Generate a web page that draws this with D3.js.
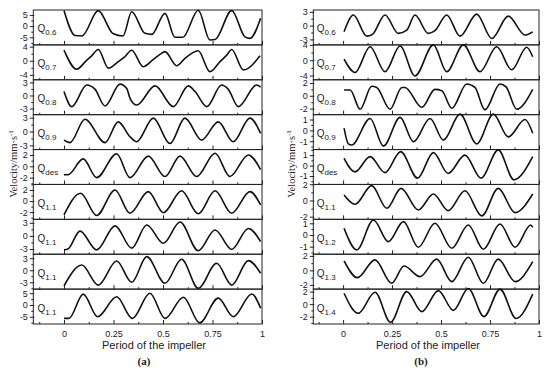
<!DOCTYPE html>
<html><head><meta charset="utf-8">
<script src="https://cdn.jsdelivr.net/npm/d3@7"></script>
<style>
html,body{margin:0;padding:0;background:#fff;}
svg{display:block;}
text{font-family:"Liberation Sans",Arial,sans-serif;fill:#222;}
</style></head>
<body>
<svg id="chart" width="550" height="371"></svg>
<script>
// ---------- data ----------
const leftLabels  = ["0.6","0.7","0.8","0.9","des","1.1","1.1","1.1","1.1"];
const rightLabels = ["0.6","0.7","0.8","0.9","des","1.1","1.2","1.3","1.4"];
const leftTicks  = [5,4,3,3,2,2,3,3,5];
const rightTicks = [3,4,2,1,1,2,1,2,2];
const leftDomains  = [[-8.4,7.2],[-5.4,4.5],[-4.4,3.6],[-3.9,3.65],[-3.2,2.95],[-3.3,3.0],[-4.2,3.8],[-4.7,4.0],[-8.1,6.75]];
const rightDomains = [[-4.2,3.4],[-5.1,4.0],[-2.95,2.5],[-1.77,1.45],[-1.8,1.53],[-2.33,1.98],[-1.65,1.34],[-2.58,2.23],[-3.17,2.4]];
const xTickValues = [0,0.25,0.5,0.75,1];
const xMinorValues = [-0.125,0.125,0.375,0.625,0.875];

// left panel (a)
const L_Q06 = [[0,7.0],[0.056,-4.2],[0.091,-4.4],[0.173,6.9],[0.247,-3.3],[0.298,-4.4],[0.342,6.4],[0.409,-3.2],[0.443,-3.7],[0.51,5.7],[0.56,-5.0],[0.60,-5.0],[0.678,7.1],[0.737,-6.2],[0.763,-6.0],[0.847,6.9],[0.914,-4.8],[0.939,-5.5],[0.993,3.5]];
const L_Q07 = [[0,3.0],[0.064,-2.4],[0.115,0.2],[0.14,1.4],[0.173,3.2],[0.224,-2.1],[0.274,-0.25],[0.308,1.2],[0.342,3.0],[0.40,-1.7],[0.451,0.4],[0.493,2.1],[0.51,2.6],[0.569,-1.4],[0.611,0.7],[0.645,2.1],[0.678,2.85],[0.737,-3.1],[0.788,-0.25],[0.822,1.6],[0.847,3.2],[0.906,-2.6],[0.99,1.4]];
const L_Q08 = [[0,0.9],[0.039,-2.55],[0.115,2.4],[0.157,1.4],[0.207,-2.4],[0.283,2.6],[0.317,1.6],[0.333,-0.6],[0.367,-2.2],[0.46,2.2],[0.552,-2.55],[0.628,2.2],[0.662,0.9],[0.721,-2.55],[0.796,2.4],[0.83,1.4],[0.88,-2.55],[0.973,2.4],[0.993,1.9]];
const L_Q09 = [[0,-1.85],[0.03,-2.4],[0.106,2.65],[0.207,-2.4],[0.274,2.1],[0.333,-1.1],[0.367,-2.2],[0.451,2.9],[0.535,-2.6],[0.611,2.9],[0.695,-1.85],[0.779,2.1],[0.855,-2.2],[0.939,2.9],[0.993,-0.4]];
const L_Qdes = [[0,-1.5],[0.02,-1.5],[0.097,1.3],[0.165,-2.0],[0.266,2.2],[0.333,-2.0],[0.426,1.8],[0.51,-1.8],[0.586,1.8],[0.67,-1.8],[0.763,2.3],[0.838,-1.8],[0.931,2.0],[0.993,-0.6]];
const L_Q11a = [[0,-2.5],[0.084,1.4],[0.165,-2.6],[0.258,2.0],[0.333,-2.2],[0.426,1.7],[0.502,-2.1],[0.594,1.85],[0.678,-2.3],[0.763,1.85],[0.847,-2.2],[0.939,1.7],[0.993,-0.7]];
const L_Q11b = [[0,-3.2],[0.02,-3.0],[0.081,1.1],[0.165,-3.2],[0.258,2.3],[0.342,-2.8],[0.418,2.5],[0.502,-1.7],[0.586,3.2],[0.678,-3.4],[0.763,1.35],[0.847,-3.1],[0.931,1.7],[0.993,-1.3]];
const L_Q11c = [[0,-3.9],[0.09,1.3],[0.173,-3.7],[0.266,2.3],[0.342,-3.0],[0.418,3.4],[0.51,-3.25],[0.594,2.75],[0.678,-4.5],[0.771,1.75],[0.847,-3.7],[0.931,2.4],[0.993,-0.75]];
const L_Q11d = [[0,-5.7],[0.025,-5.7],[0.097,4.6],[0.17,-5.0],[0.266,3.5],[0.345,-5.7],[0.434,5.0],[0.51,-5.7],[0.603,3.3],[0.685,-7.6],[0.779,2.9],[0.855,-5.0],[0.948,4.7],[0.993,-1.4]];

// right panel (b)
const R_Q06 = [[0.005,-1.35],[0.053,2.3],[0.121,-2.3],[0.15,-1.9],[0.214,2.3],[0.282,-1.7],[0.325,-1.0],[0.367,2.3],[0.435,-1.7],[0.469,-1.1],[0.529,2.3],[0.597,-2.3],[0.682,2.5],[0.759,-2.8],[0.843,2.06],[0.929,-2.06],[0.968,-1.35]];
const R_Q07 = [[0.005,0.26],[0.061,-3.2],[0.138,3.5],[0.214,-3.0],[0.291,3.7],[0.367,-4.1],[0.461,4.0],[0.529,-3.0],[0.614,4.0],[0.699,-3.0],[0.784,3.5],[0.861,-2.5],[0.937,3.4],[0.968,0.9]];
const R_Q08 = [[0.005,0.9],[0.036,0.9],[0.087,-2.1],[0.146,1.5],[0.172,1.3],[0.24,-2.1],[0.3,1.3],[0.316,1.3],[0.402,-1.8],[0.469,1.0],[0.504,0.8],[0.555,-1.95],[0.631,1.85],[0.673,1.3],[0.724,-2.2],[0.801,1.85],[0.832,1.4],[0.886,-2.1],[0.968,1.0]];
const R_Q09 = [[0.005,0.2],[0.027,-1.25],[0.044,-1.35],[0.138,1.1],[0.206,-1.45],[0.291,1.2],[0.359,-1.05],[0.444,1.1],[0.512,-0.9],[0.597,1.5],[0.682,-1.25],[0.767,1.5],[0.843,-0.6],[0.929,1.0],[0.968,-0.27]];
const R_Qdes = [[0.005,0.7],[0.061,-0.6],[0.138,0.86],[0.214,-0.67],[0.294,1.33],[0.38,-1.2],[0.461,1.24],[0.536,-0.75],[0.622,1.0],[0.704,-1.2],[0.792,1.5],[0.872,-1.36],[0.968,0.86]];
const R_Q11 = [[0.005,0.68],[0.061,-0.47],[0.146,1.83],[0.223,-0.96],[0.296,1.5],[0.384,-1.17],[0.461,0.8],[0.537,-1.26],[0.622,1.2],[0.708,-1.9],[0.792,1.5],[0.878,-1.5],[0.968,0.8]];
const R_Q12 = [[0.005,0.57],[0.07,-1.28],[0.155,1.28],[0.231,-0.57],[0.308,1.14],[0.384,-1.05],[0.469,1.0],[0.555,-1.14],[0.639,0.85],[0.716,-1.22],[0.801,0.94],[0.878,-1.05],[0.958,0.85],[0.968,0.66]];
const R_Q13 = [[0.005,1.3],[0.073,-1.0],[0.163,1.45],[0.248,-1.77],[0.311,0.6],[0.393,-0.86],[0.478,1.55],[0.555,-1.55],[0.639,1.82],[0.716,-1.77],[0.792,1.55],[0.878,-1.55],[0.968,1.2]];
const R_Q14 = [[0.005,1.74],[0.077,-1.46],[0.163,1.9],[0.242,-2.9],[0.325,2.0],[0.402,-1.2],[0.486,2.16],[0.563,-1.0],[0.639,2.5],[0.719,-2.0],[0.801,2.4],[0.883,-2.3],[0.968,1.6]];

const leftSeries  = [L_Q06,L_Q07,L_Q08,L_Q09,L_Qdes,L_Q11a,L_Q11b,L_Q11c,L_Q11d];
const rightSeries = [R_Q06,R_Q07,R_Q08,R_Q09,R_Qdes,R_Q11,R_Q12,R_Q13,R_Q14];

// ---------- layout ----------
const svg = d3.select("#chart");
const TOP = 10, BOTTOM = 324, NROW = 9, rowH = (BOTTOM - TOP) / NROW;

const panels = [
  {x0:33.3, x1:262, dmin:-0.155, labels:leftLabels, ticks:leftTicks, domains:leftDomains, series:leftSeries,
   qX:37.5, yTitleX:16.5, xTitleX:154, tagX:144, tag:"(a)"},
  {x0:313.3, x1:539, dmin:-0.152, labels:rightLabels, ticks:rightTicks, domains:rightDomains, series:rightSeries,
   qX:316.7, yTitleX:295, xTitleX:428, tagX:421, tag:"(b)"}
];

panels.forEach(p => {
  const g = svg.append("g");
  const x = d3.scaleLinear().domain([p.dmin, 1]).range([p.x0, p.x1]);
  for (let i = 0; i < NROW; i++) {
    const top = TOP + rowH * i, bot = top + rowH;
    const y = d3.scaleLinear().domain(p.domains[i]).range([bot, top]);
    const a = p.ticks[i];
    g.append("rect").attr("x", p.x0).attr("y", top).attr("width", p.x1 - p.x0).attr("height", rowH)
      .attr("fill", "none").attr("stroke", "#222").attr("stroke-width", 1);
    const ya = g.append("g").attr("transform", `translate(${p.x0},0)`)
      .call(d3.axisLeft(y).tickValues([-a, 0, a]).tickSize(3.5).tickPadding(2).tickFormat(d => d < 0 ? "-" + Math.abs(d) : String(d)));
    ya.select(".domain").remove();
    ya.selectAll("line").attr("stroke", "#222").attr("x2", -3.5).attr("x1", 1);
    ya.selectAll("text").attr("font-size", 9).attr("font-family", '"Liberation Sans",Arial,sans-serif').attr("fill", "#222");
    const minors = [];
    for (let k = -5; k <= 5; k++) {
      const v = k * a / 2;
      if (k % 2 !== 0 && v >= p.domains[i][0] && v <= p.domains[i][1]) minors.push(v);
    }
    const ym = g.append("g").attr("transform", `translate(${p.x0},0)`)
      .call(d3.axisLeft(y).tickValues(minors).tickSize(2).tickFormat(""));
    ym.select(".domain").remove();
    ym.selectAll("line").attr("stroke", "#222");
    const xa = g.append("g").attr("transform", `translate(0,${bot})`)
      .call(d3.axisTop(x).tickValues(xTickValues).tickSize(4).tickFormat(""));
    xa.select(".domain").remove();
    xa.selectAll("line").attr("stroke", "#222");
    const xm = g.append("g").attr("transform", `translate(0,${bot})`)
      .call(d3.axisTop(x).tickValues(xMinorValues).tickSize(2).tickFormat(""));
    xm.select(".domain").remove();
    xm.selectAll("line").attr("stroke", "#222");
    const line = d3.line().x(d => x(d[0])).y(d => y(d[1])).curve(d3.curveMonotoneX);
    g.append("path").datum(p.series[i]).attr("d", line)
      .attr("fill", "none").attr("stroke", "#111").attr("stroke-width", 1.6).attr("stroke-linejoin", "round");
    const yc = top + rowH / 2 + 5;
    const t = g.append("text").attr("x", p.qX).attr("y", yc).attr("font-size", 10).text("Q");
    t.append("tspan").attr("font-size", 8).attr("dy", 3).text(p.labels[i]);
  }
  const xb = g.append("g").attr("transform", `translate(0,${BOTTOM})`)
    .call(d3.axisBottom(x).tickValues(xTickValues).tickSize(0).tickPadding(7).tickFormat(d => String(d)));
  xb.select(".domain").remove();
  xb.selectAll("text").attr("font-size", 9).attr("font-family", '"Liberation Sans",Arial,sans-serif').attr("fill", "#222");
  g.append("text").attr("x", p.xTitleX).attr("y", 349).attr("text-anchor", "middle").attr("font-size", 11)
    .text("Period of the impeller");
  g.append("text").attr("x", p.tagX).attr("y", 364.5).attr("text-anchor", "middle").attr("font-size", 11)
    .attr("font-weight", "bold").style("font-family", '"Liberation Serif","Times New Roman",serif').text(p.tag);
  const yt = g.append("text").attr("transform", `translate(${p.yTitleX},164) rotate(-90)`)
    .attr("text-anchor", "middle").attr("font-size", 10.5)
    .style("font-family", '"Liberation Serif","Times New Roman",serif');
  yt.append("tspan").text("Velocity/mm·s");
  yt.append("tspan").attr("font-size", 7).attr("dy", -4).text("-1");
});
</script>
</body></html>
